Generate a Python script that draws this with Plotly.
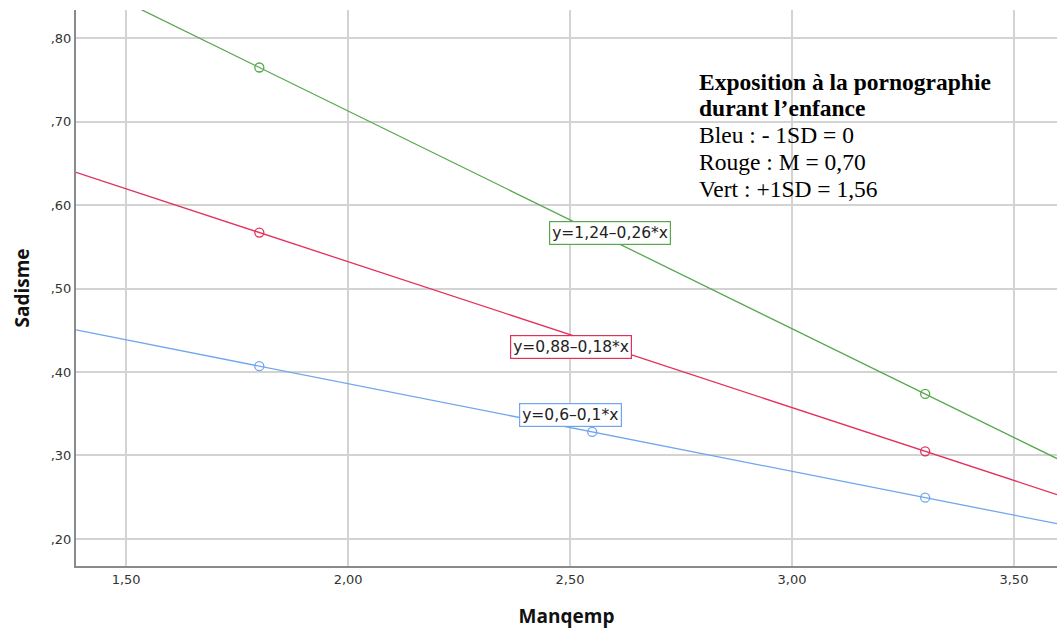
import plotly.graph_objects as go

# Data
groups = ["Bleu", "Rouge", "Vert"]
intercepts = [0.596, 0.8815, 1.234]
slopes = [-0.105, -0.1747, -0.2607]
point_x = [1.80, 2.55, 3.30]
eq_labels = ["y=0,6–0,1*x", "y=0,88–0,18*x", "y=1,24–0,26*x"]
label_x = [2.502, 2.502, 2.590]
label_y = [0.349, 0.430, 0.566]
colors = ["#6fa6ee", "#e3305a", "#55a84c"]

note_lines = ["<b>Exposition à la pornographie</b>", "<b>durant l’enfance</b>",
              "Bleu : - 1SD = 0", "Rouge : M = 0,70", "Vert : +1SD = 1,56"]

x_range = [1.387, 3.597]
y_range = [0.1676, 0.8336]
x_ticks = [1.5, 2.0, 2.5, 3.0, 3.5]
x_ticktext = ["1,50", "2,00", "2,50", "3,00", "3,50"]
y_ticks = [0.2, 0.3, 0.4, 0.5, 0.6, 0.7, 0.8]
y_ticktext = [",20", ",30", ",40", ",50", ",60", ",70", ",80"]

fig = go.Figure()
for i in range(3):
    lx = x_range
    ly = [intercepts[i] + slopes[i] * v for v in lx]
    fig.add_trace(go.Scatter(x=lx, y=ly, mode="lines",
                             line=dict(color=colors[i], width=1.3),
                             showlegend=False, hoverinfo="skip"))
    py = [intercepts[i] + slopes[i] * v for v in point_x]
    fig.add_trace(go.Scatter(x=point_x, y=py, mode="markers",
                             marker=dict(symbol="circle-open", size=9,
                                         color=colors[i], line=dict(width=1.3)),
                             showlegend=False))
    fig.add_annotation(x=label_x[i], y=label_y[i], xref="x", yref="y",
                       text=eq_labels[i], showarrow=False,
                       font=dict(family="DejaVu Sans", size=15.5, color="#222"),
                       bgcolor="white", bordercolor=colors[i], borderwidth=1.2,
                       borderpad=2)

plot_h = 631 - 10 - 65
note_px = [82, 108, 135, 162, 189]
for txt, py in zip(note_lines, note_px):
    fig.add_annotation(
        xref="paper", yref="paper", x=(697 - 76) / 981, y=1 - (py - 10) / plot_h,
        xanchor="left", yanchor="middle", align="left", showarrow=False,
        text=txt, font=dict(family="Liberation Serif", size=23.5, color="black"))

fig.update_xaxes(range=x_range, tickvals=x_ticks, ticktext=x_ticktext,
                 showgrid=True, gridcolor="#d3d3d3", gridwidth=1.5,
                 showline=True, linecolor="#8a8a8a", linewidth=2,
                 ticks="", zeroline=False,
                 tickfont=dict(family="DejaVu Sans", size=13, color="#333"),
                 title=dict(text="<b>Manqemp</b>", standoff=24,
                            font=dict(family="Open Sans", size=19, color="#111")))
fig.update_yaxes(range=y_range, tickvals=y_ticks, ticktext=y_ticktext,
                 showgrid=True, gridcolor="#d3d3d3", gridwidth=1.5,
                 showline=True, linecolor="#8a8a8a", linewidth=2,
                 ticks="", zeroline=False,
                 tickfont=dict(family="DejaVu Sans", size=13, color="#333"),
                 title=dict(text="<b>Sadisme</b>", standoff=16,
                            font=dict(family="Open Sans", size=19, color="#111")))

fig.update_layout(width=1057, height=631, plot_bgcolor="white", paper_bgcolor="white",
                  margin=dict(l=76, r=0, t=10, b=65), showlegend=False)

fig.write_html("out.html", config={"displayModeBar": False},
               post_script="document.body.style.margin='0';document.body.style.overflow='hidden';")
